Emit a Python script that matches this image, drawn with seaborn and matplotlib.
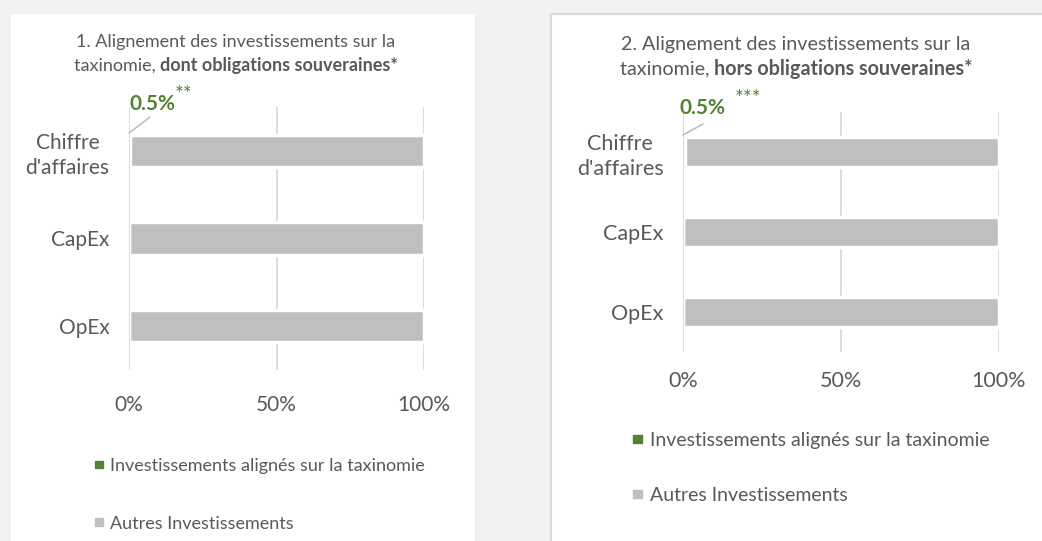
import matplotlib
matplotlib.use("Agg")
import matplotlib.pyplot as plt
import matplotlib.patches as mpatches
import pandas as pd
import seaborn as sns

# chart values
categories = ["Chiffre\nd'affaires", "CapEx", "OpEx"]
aligned_1 = [0.5, 0.0, 0.0]
others_1 = [99.5, 100.0, 100.0]
aligned_2 = [0.5, 0.0, 0.0]
others_2 = [99.5, 100.0, 100.0]
ticks = [0, 50, 100]
tick_labels = ["0%", "50%", "100%"]
legend_labels = ["Investissements alignés sur la taxinomie", "Autres Investissements"]

GREEN = "#548235"
GREY_BAR = "#bfbfbf"
GRID = "#d9d9d9"
TXT = "#595959"

sns.set_style("white")
plt.rcParams["font.family"] = ["Lato", "DejaVu Sans"]

W, H = 1042, 541
fig = plt.figure(figsize=(W / 100, H / 100), dpi=100)
fig.patch.set_facecolor("#f2f2f2")


def px(x0, y0, x1, y1):
    # pixel box (top-left origin) -> figure fraction rect
    return [x0 / W, 1 - y1 / H, (x1 - x0) / W, (y1 - y0) / H]


# white panels behind the axes
fig.patches.append(mpatches.Rectangle((11 / W, 0), (475 - 11) / W, 1 - 14 / H,
                                      transform=fig.transFigure, facecolor="white",
                                      edgecolor="none", zorder=-5))
fig.patches.append(mpatches.Rectangle((551 / W, -0.01), (1050 - 551) / W, 1 - 14 / H + 0.01,
                                      transform=fig.transFigure, facecolor="white",
                                      edgecolor=GRID, linewidth=1.5, zorder=-5))

panels = [
    dict(rect=px(129, 107, 424, 370), aligned=aligned_1, others=others_1,
         title_x=236, title_y=(42, 66), fs_title=13, fs=15, xpad=18,
         t1="1. Alignement des investissements sur la",
         t2a="taxinomie, ", t2b="dont obligations souveraines*",
         lab_xy=(129, 104), star_xy=(175, 95), stars="**",
         lead=((129, 133), (150, 117)), leg_xy=(95, 458), leg_fs=13, leg_sp=2.3),
    dict(rect=px(683, 112, 999, 352), aligned=aligned_2, others=others_2,
         title_x=796, title_y=(45, 69), fs_title=14.2, fs=15.5, xpad=14,
         t1="2. Alignement des investissements sur la",
         t2a="taxinomie, ", t2b="hors obligations souveraines*",
         lab_xy=(679, 108), star_xy=(735, 99), stars="***",
         lead=((683, 135), (703, 124)), leg_xy=(633, 432), leg_fs=14, leg_sp=1.95),
]

for p in panels:
    ax = fig.add_axes(p["rect"])
    ax.set_facecolor("none")
    df = pd.DataFrame({"cat": categories, "aligned": p["aligned"],
                       "total": [a + o for a, o in zip(p["aligned"], p["others"])]})
    sns.barplot(data=df, y="cat", x="total", color=GREY_BAR, orient="h", width=0.37,
                edgecolor="white", linewidth=2.5, saturation=1, ax=ax, zorder=3)
    sns.barplot(data=df, y="cat", x="aligned", color=GREEN, orient="h", width=0.37,
                edgecolor="white", linewidth=2.5, saturation=1, ax=ax, zorder=4)
    ax.set_xlim(0, 100)
    ax.set_ylim(2.5, -0.5)
    for t in ticks[1:]:
        ax.axvline(t, color=GRID, linewidth=1.3, zorder=1)
    ax.axvline(0, color=GRID, linewidth=1.3, zorder=5)
    sns.despine(ax=ax, left=True, bottom=True)
    ax.set_xticks(ticks)
    ax.set_xticklabels(tick_labels, fontsize=p["fs"], color=TXT)
    ax.tick_params(axis="x", length=0, pad=p["xpad"])
    ax.tick_params(axis="y", length=0, pad=14)
    for lab in ax.get_yticklabels():
        lab.set_fontsize(p["fs"])
        lab.set_color(TXT)
        lab.set_multialignment("center")
        lab.set_linespacing(1.3)
    ax.set_xlabel("")
    ax.set_ylabel("")

    # title, first line regular, second line partly bold
    fig.text(p["title_x"] / W, 1 - p["title_y"][0] / H, p["t1"], ha="center", va="center",
             fontsize=p["fs_title"], color=TXT)
    r = fig.canvas.get_renderer()
    tmpa = fig.text(0, 0, p["t2a"], fontsize=p["fs_title"])
    wa = tmpa.get_window_extent(r).width
    tmpa.remove()
    tmpb = fig.text(0, 0, p["t2b"], fontsize=p["fs_title"], fontweight="bold")
    wb = tmpb.get_window_extent(r).width
    tmpb.remove()
    x0 = p["title_x"] - (wa + wb) / 2
    fig.text(x0 / W, 1 - p["title_y"][1] / H, p["t2a"], ha="left", va="center",
             fontsize=p["fs_title"], color=TXT)
    fig.text((x0 + wa) / W, 1 - p["title_y"][1] / H, p["t2b"], ha="left", va="center",
             fontsize=p["fs_title"], color=TXT, fontweight="bold")

    # data label with leader line
    fig.text(p["lab_xy"][0] / W, 1 - p["lab_xy"][1] / H, f"{p['aligned'][0]}%",
             ha="left", va="center", fontsize=15, color=GREEN, fontweight="bold")
    fig.text(p["star_xy"][0] / W, 1 - p["star_xy"][1] / H, p["stars"],
             ha="left", va="center", fontsize=15, color=GREEN)
    (a, b), (c, d) = p["lead"]
    fig.add_artist(plt.Line2D([a / W, c / W], [1 - b / H, 1 - d / H], color="#bfbfbf",
                              linewidth=1.2, transform=fig.transFigure))

    # legend
    handles = [mpatches.Patch(color=GREEN), mpatches.Patch(color=GREY_BAR)]
    leg = ax.legend(handles, legend_labels, loc="upper left",
                    bbox_to_anchor=(p["leg_xy"][0] / W, 1 - p["leg_xy"][1] / H),
                    bbox_transform=fig.transFigure, frameon=False,
                    handlelength=0.45, handleheight=0.3, handletextpad=0.4,
                    labelspacing=p["leg_sp"], fontsize=p["leg_fs"], borderaxespad=0,
                    borderpad=0)
    for t in leg.get_texts():
        t.set_color(TXT)

fig.savefig("out.png", dpi=100, facecolor=fig.get_facecolor())
